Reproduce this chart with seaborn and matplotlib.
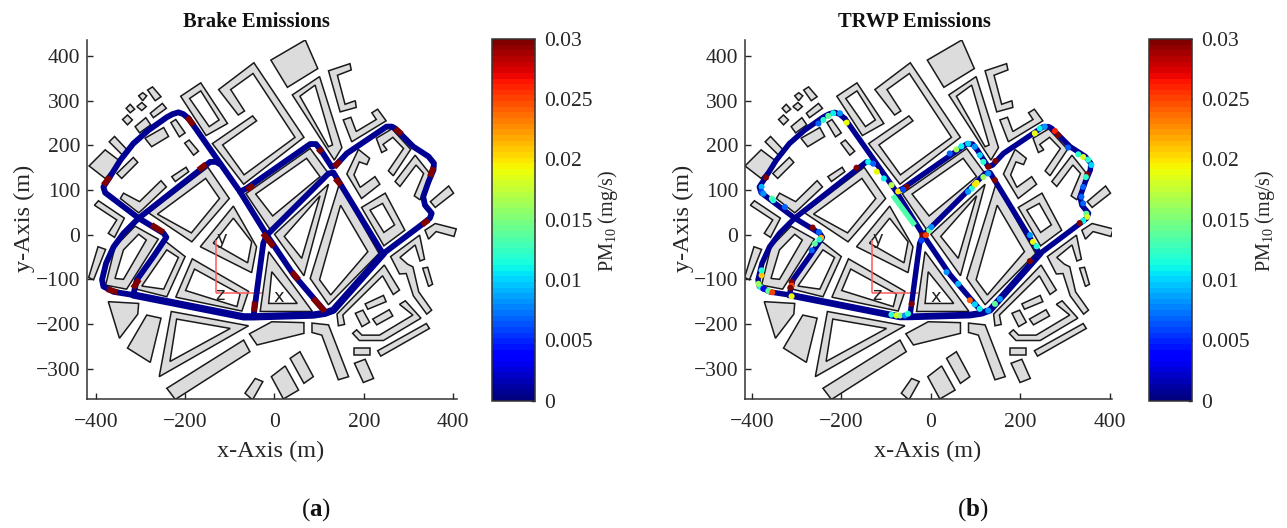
import numpy as np
import matplotlib
matplotlib.use("Agg")
import matplotlib.pyplot as plt
from matplotlib.cm import ScalarMappable
from matplotlib.colors import Normalize
import pandas as pd
import seaborn as sns

# ---------- data (metres, PM10 mg/s) ----------
titles = ["Brake Emissions", "TRWP Emissions"]
panel_tags = ["a", "b"]
x_ticks = [-400, -200, 0, 200, 400]
y_ticks = [-300, -200, -100, 0, 100, 200, 300, 400]
cbar_ticks = [0, 0.005, 0.01, 0.015, 0.02, 0.025, 0.03]
cbar_labels = ["0", "0.005", "0.01", "0.015", "0.02", "0.025", "0.03"]
base_value = 0.0006

buildings = [
    [(-8,391),(69,436),(97,372),(29,330)],
    [(-125,325),(-46,385),(66,218),(-69,113),(-139,204),(-49,266),(-40,255),(-116,201),(-68,134),(46,218),(-48,361),(-98,325),(-67,277),(-81,268)],
    [(-210,310),(-165,340),(-105,249),(-153,222)],
    [(40,313),(101,354),(151,195),(134,167)],
    [(121,367),(169,383),(172,369),(141,357),(158,292),(181,300),(183,285),(147,275)],
    [(154,257),(171,263),(183,231),(228,258),(218,273),(231,281),(250,255),(173,208)],
    [(162,136),(188,191),(213,171),(207,157),(190,163),(178,134),(192,106),(225,130),(236,113),(195,81)],
    [(195,61),(248,93),(292,10),(245,-25)],
    [(228,216),(263,237),(305,191),(266,132),(255,143),(289,193),(265,218),(243,202),(252,190),(240,184)],
    [(270,119),(315,178),(350,134),(326,78),(313,87),(334,137),(317,156),(281,108)],
    [(349,74),(390,109),(401,93),(360,61)],
    [(337,10),(360,25),(407,13),(402,-4),(362,7),(345,-10)],
    [(260,-49),(325,-1),(336,-55),(326,-59),(315,-23),(281,-51),(298,-66),(310,-72),(323,-128),(352,-169),(341,-178),(311,-137),(295,-87),(280,-88)],
    [(332,-75),(343,-73),(354,-111),(345,-116)],
    [(140,-178),(246,-68),(280,-124),(266,-134),(242,-92),(153,-180),(157,-201),(143,-204)],
    [(203,-155),(244,-136),(250,-150),(209,-167)],
    [(181,-176),(198,-169),(213,-196),(196,-206)],
    [(220,-189),(257,-168),(265,-182),(229,-202)],
    [(175,-221),(184,-213),(196,-225),(235,-225),(310,-180),(280,-156),(293,-148),(328,-187),(244,-237),(190,-237)],
    [(231,-260),(340,-199),(347,-210),(238,-272)],
    [(177,-254),(213,-254),(213,-269),(177,-269)],
    [(179,-288),(203,-279),(222,-322),(199,-331)],
    [(84,-198),(121,-202),(166,-318),(143,-325),(106,-225),(84,-219)],
    [(-56,-222),(-6,-195),(66,-197),(66,-221),(-39,-247)],
    [(35,-277),(57,-262),(87,-318),(66,-333)],
    [(-7,-318),(24,-294),(54,-348),(20,-368)],
    [(-66,-355),(-43,-322),(-26,-329),(-49,-370)],
    [(-241,-344),(-69,-236),(-55,-262),(-222,-369)],
    [(-231,-172),(-58,-204),(-258,-318)],
    [(-372,-150),(-304,-154),(-306,-178),(-347,-232)],
    [(-286,-180),(-254,-187),(-278,-286),(-329,-254)],
    [(-395,-27),(-378,-33),(-405,-101),(-416,-96)],
    [(-403,66),(-394,76),(-336,37),(-358,-6),(-372,3),(-353,33)],
    [(-312,19),(-260,-10),(-331,-122),(-378,-113),(-357,-27)],
    [(-245,-14),(-200,-49),(-241,-139),(-317,-120)],
    [(-184,-54),(-58,-127),(-73,-171),(-221,-140)],
    [(-166,-27),(-92,64),(-40,-27),(-51,-85)],
    [(-282,49),(-149,151),(-101,81),(-185,-16)],
    [(-345,81),(-338,93),(-302,74),(-254,121),(-242,107),(-297,55),(-304,49)],
    [(-230,130),(-198,151),(-192,141),(-222,119)],
    [(-415,154),(-379,190),(-345,164),(-379,126)],
    [(-370,208),(-358,220),(-327,187),(-340,178)],
    [(-353,137),(-316,173),(-306,162),(-342,126)],
    [(-290,216),(-248,240),(-237,220),(-275,197)],
    [(-232,251),(-221,258),(-200,228),(-213,219)],
    [(-201,205),(-191,212),(-170,187),(-181,178)],
    [(-312,242),(-288,262),(-277,246),(-302,228)],
    [(-278,272),(-251,294),(-242,283),(-271,262)],
    [(-304,311),(-295,318),(-286,311),(-295,300)],
    [(-284,324),(-273,331),(-254,309),(-267,300)],
    [(-332,283),(-323,292),(-313,281),(-323,273)],
    [(-308,287),(-297,296),(-287,287),(-297,278)],
    [(-340,258),(-329,268),(-318,257),(-329,246)],
    [(-64,92),(80,193),(121,137),(-10,12)],
    [(0,1),(121,113),(66,-92)],
    [(80,-98),(145,113),(234,-42),(121,-157)],
    [(-13,-38),(85,-172),(-32,-172)],
]
building_holes = [
    [(-190,305),(-165,322),(-124,257),(-146,242)],
    [(57,310),(91,335),(130,201),(121,197)],
    [(214,55),(242,70),(269,22),(245,5)],
    [(-219,-189),(-99,-210),(-234,-284)],
    [(-304,1),(-287,-12),(-338,-100),(-357,-98),(-338,-34)],
    [(-241,-34),(-215,-51),(-248,-122),(-297,-115)],
    [(-179,-77),(-77,-133),(-84,-161),(-199,-125)],
    [(-137,-19),(-92,37),(-51,-16),(-60,-63)],
    [(-262,46),(-154,126),(-123,81),(-186,4)],
    [(-42,91),(72,171),(102,130),(-4,42)],
    [(22,-4),(102,87),(61,-53)],
    [(101,-101),(148,66),(209,-38),(126,-135)],
    [(-6,-83),(51,-154),(-13,-154)],
]

road_loop_west = [(-192,260),(-204,270),(-215,274),(-228,270),(-241,263),(-282,234),(-316,204),(-345,167),(-368,130),(-383,107),(-379,94),(-304,37),(-248,3),(-242,-6),(-271,-49),(-308,-101),(-316,-135)]
road_diag_west = [(-316,-135),(-360,-128),(-383,-116),(-386,-101),(-377,-64),(-360,-27),(-338,3),(-304,37),(-163,148),(-144,163),(-131,163),(-122,158)]
road_spine = [(-192,260),(-77,96),(-17,-1),(43,-90),(113,-172)]
road_east = [(-77,96),(-62,104),(80,203),(93,203),(104,189),(128,152),(138,156),(162,182),(251,242),(263,242),(270,238),(311,197),(345,175),(357,160),(356,145),(345,119),(333,85),(337,66),(352,48),(348,37),(333,25),(244,-42)]
road_cross = [(-47,-184),(-25,-19),(-17,-1),(121,137),(132,139),(240,-38)]
road_wide_south = [(-316,-135),(-69,-184),(-47,-184),(87,-180),(113,-176),(132,-169),(244,-42)]
roads = [road_loop_west, road_diag_west, road_spine, road_east, road_cross]

brake_hot = [
    [(-196,264),(-181,245)], [(-383,111),(-368,130)], [(-275,22),(-248,5)], [(-375,-122),(-351,-129)],
    [(-303,-100),(-317,-120)], [(-170,145),(-153,158)], [(-62,100),(-47,111)], [(-26,3),(-2,-27)],
    [(39,-83),(54,-101)], [(86,-142),(113,-172)], [(-44,-150),(-46,-172)], [(98,193),(106,184)],
    [(147,166),(134,151)], [(136,126),(149,111)], [(270,238),(285,225)], [(356,151),(348,130)],
    [(345,33),(330,22)],
]
brake_hot_value = 0.03
brake_thin = [(222,-64),(233,-49)]

trwp_stretch = [(-85,88),(-36,21)]
trwp_stretch_value = 0.0135

spot_x = [-368,-378,-378,-374,-355,-352,-326,-264,-250,-245,-249,-259,-266,-311,-311,-314,-311,-381,-385,-378,-378,-374,-363,-354,
          -88,-77,-69,-58,-51,-43,-188,-203,-218,-229,-240,-251,-166,-140,-129,-121,-105,-88,-73,-54,-62,42,57,68,83,98,109,117,128,144,143,
          128,117,102,98,91,83,-19,-11,-4,1,-21,35,61,87,98,109,128,143,154,232,243,254,277,284,306,329,340,351,358,349,346,340,336,340,347,349,340,332,228,236,221,221]
spot_y = [128,107,96,92,81,77,62,16,6,-7,-11,-20,-35,-106,-114,-119,-138,-117,-110,-91,-80,-121,-126,-129,
          -179,-181,-181,-181,-177,-155,251,272,272,266,257,249,150,163,159,141,126,111,97,107,101,182,191,198,204,197,178,163,152,165,122,
          137,129,116,112,103,96,-1,-1,10,17,-13,-84,-110,-147,-156,-166,-170,-155,-144,227,238,242,232,223,195,180,174,168,156,135,129,107,85,70,47,40,31,26,-16,-26,-1,-59]
spot_pm = [.03,.009,.006,.008,.014,.012,.007,.03,.007,.022,.012,.014,.007,.03,.025,.03,.019,.012,.016,.021,.012,.003,.014,.025,
           .012,.018,.016,.008,.012,.03,.019,.008,.011,.014,.012,.007,.03,.011,.007,.019,.011,.017,.02,.03,.006,.007,.016,.011,.01,.008,.01,.012,.03,.03,.03,
           .008,.016,.019,.02,.012,.008,.03,.025,.014,.008,.006,.008,.009,.024,.01,.011,.008,.014,.008,.019,.011,.008,.026,.03,.007,.012,.018,.012,.01,.03,.012,.007,.007,.007,.014,.018,.011,.03,.019,.012,.008,.03]

ref_axis_y = [(-131,-12),(-131,-130)]
ref_axis_x = [(-131,-130),(-28,-130)]
ref_labels = [("y",-118,-9),("x",10,-140),("z",-121,-136)]

# ---------- style ----------
sns.set_theme(style="ticks")
plt.rcParams["font.family"] = ["Liberation Serif", "DejaVu Serif"]
plt.rcParams["mathtext.fontset"] = "custom"
plt.rcParams["mathtext.rm"] = "Liberation Serif"
plt.rcParams["mathtext.bf"] = "Liberation Serif:bold"
plt.rcParams["mathtext.default"] = "rm"
TEXT = "#262626"
cmap = plt.get_cmap("jet", 64)
norm = Normalize(0, 0.03)

W, H = 1287, 528
fig = plt.figure(figsize=(W/100, H/100), dpi=100)


def box(x0, x1, ytop, ybot):
    return [x0/W, 1-ybot/H, (x1-x0)/W, (ybot-ytop)/H]


def draw_line(ax, pts, color, lw, cap="round", z=5):
    arr = np.array(pts, dtype=float)
    df = pd.DataFrame({"x": arr[:, 0], "y": arr[:, 1], "o": np.arange(len(arr))})
    sns.lineplot(data=df, x="x", y="y", sort=False, estimator=None, ax=ax, color=color,
                 linewidth=lw, solid_capstyle=cap, solid_joinstyle="round", zorder=z, legend=False)


def draw_panel(ax, is_brake, lw):
    for poly in buildings:
        ax.fill(*zip(*poly), facecolor="#dcdcdc", edgecolor="#1a1a1a", linewidth=1.1, zorder=2)
    for poly in building_holes:
        ax.fill(*zip(*poly), facecolor="white", edgecolor="#1a1a1a", linewidth=1.1, zorder=3)
    draw_line(ax, ref_axis_y, "#ff5a5a", 1.1, "butt", 4)
    draw_line(ax, ref_axis_x, "#ff5a5a", 1.1, "butt", 4)
    for t, tx, ty in ref_labels:
        ax.text(tx, ty, t, family="DejaVu Sans", fontsize=13, ha="center", va="center", color="#222222", zorder=4)
    base = cmap(norm(base_value))
    for r in roads:
        draw_line(ax, r, base, lw)
    draw_line(ax, road_wide_south, base, lw*1.25)
    if is_brake:
        hot = cmap(norm(brake_hot_value))
        for seg in brake_hot:
            draw_line(ax, seg, hot, lw, "butt", 6)
        draw_line(ax, brake_thin, hot, lw*0.4, "butt", 4)
    else:
        draw_line(ax, trwp_stretch, cmap(norm(trwp_stretch_value)), lw, "butt", 6)
        df = pd.DataFrame({"x": spot_x, "y": spot_y, "pm": spot_pm})
        sns.scatterplot(data=df, x="x", y="y", hue="pm", palette=cmap, hue_norm=norm, s=lw*lw*1.25,
                        linewidth=0, legend=False, ax=ax, zorder=7)


panels = [
    dict(ax=box(87.3, 456.7, 40, 399), xlim=(-419, 408), cax=box(492, 535.3, 39, 400.5), lw=4.2,
         tx=.459, lx=.497, ly=-.169, tagx=316),
    dict(ax=box(745, 1112.3, 40, 399), xlim=(-415, 405), cax=box(1149, 1192.3, 39, 400.5), lw=3.9,
         tx=.46, lx=.498, ly=-.169, tagx=973),
]
for i, p in enumerate(panels):
    ax = fig.add_axes(p["ax"])
    draw_panel(ax, i == 0, p["lw"])
    ax.set_xlim(*p["xlim"])
    ax.set_ylim(-368, 436)
    ax.set_xticks(x_ticks)
    ax.set_yticks(y_ticks)
    ax.tick_params(direction="in", length=4, width=1, labelsize=15.5, colors=TEXT, pad=5)
    ax.tick_params(axis="x", pad=10)
    for s in ("top", "right"):
        ax.spines[s].set_visible(False)
    for s in ("left", "bottom"):
        ax.spines[s].set_color("#333333")
        ax.spines[s].set_linewidth(1.1)
    ax.set_xlabel("x-Axis (m)", fontsize=17.5, color=TEXT, va="center")
    ax.set_ylabel("y-Axis (m)", fontsize=17.5, color=TEXT, va="center")
    ax.xaxis.set_label_coords(p["lx"], -.145)
    ax.yaxis.set_label_coords(p["ly"], .504)
    ax.set_title(titles[i], fontsize=14.8, fontweight="bold", color="#111111", x=p["tx"], y=1.05, va="center", pad=0)
    cax = fig.add_axes(p["cax"])
    cb = fig.colorbar(ScalarMappable(norm=norm, cmap=cmap), cax=cax)
    cb.set_ticks(cbar_ticks)
    cb.set_ticklabels(cbar_labels)
    cax.tick_params(direction="in", length=3, width=1, labelsize=15.5, colors=TEXT, pad=6, right=True)
    cb.outline.set_edgecolor("#333333")
    cb.outline.set_linewidth(1.1)
    cb.set_label("PM$_{10}$ (mg/s)", fontsize=14.5, color=TEXT, va="center")
    cax.yaxis.set_label_coords(2.67, .497)
    fig.text(p["tagx"]/W, 1-510/H, "($\\mathbf{%s}$)" % panel_tags[i], fontsize=18, color="#111111",
             ha="center", va="center")

fig.savefig("out.png", dpi=100)
